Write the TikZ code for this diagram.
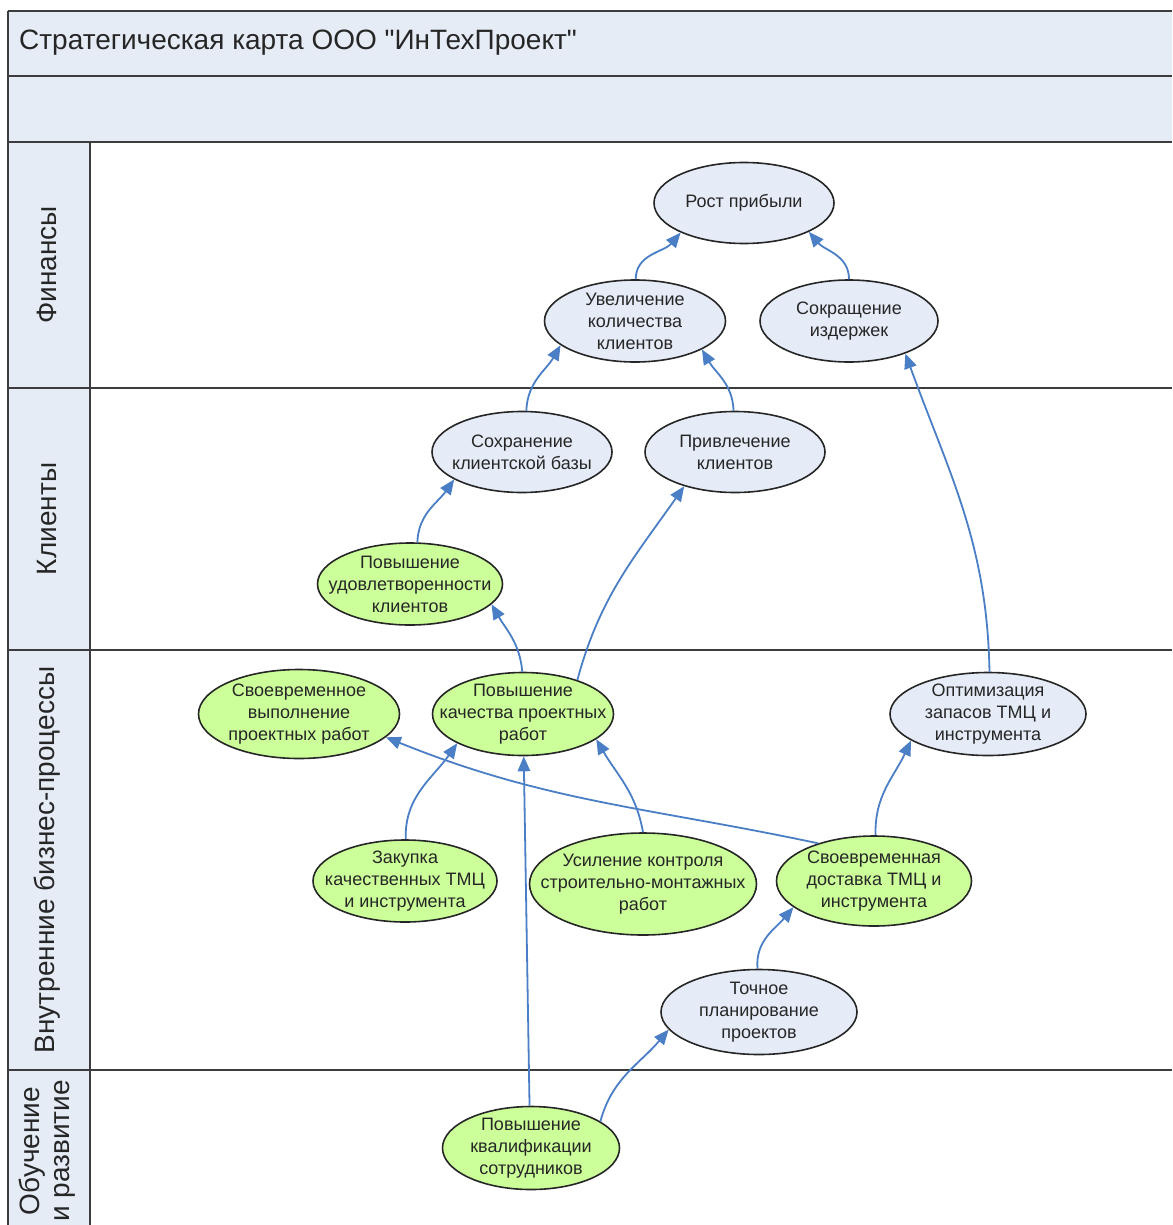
\documentclass[tikz,border=0pt]{standalone}
\usepackage{fontspec}
\setmainfont{Liberation Sans}
\newfontfamily\titlefont{Liberation Sans}
\usetikzlibrary{shapes.geometric,arrows.meta}
\definecolor{hdr}{HTML}{E6ECF6}
\definecolor{nblue}{HTML}{E6ECF7}
\definecolor{ngreen}{HTML}{CCFF99}
\definecolor{arr}{HTML}{4A7EC5}
\definecolor{frm}{HTML}{3C3C3C}
\begin{document}
\begin{tikzpicture}[x=1pt,y=-1pt,
  bub/.style={ellipse,draw=black!85,line width=1.6pt,inner sep=0pt},
  bb/.style={bub,fill=nblue},
  bg/.style={bub,fill=ngreen},
  txt/.style={align=center,font=\fontsize{18}{22}\selectfont,inner sep=0pt,text=black!85},
  lbl/.style={align=center,font=\fontsize{28}{30}\selectfont,inner sep=0pt,text=black!85,rotate=90},
  conn/.style={draw=arr,line width=1.8pt,-{Triangle[length=15pt,width=12.5pt]}},
  laneline/.style={draw=frm,line width=2.8pt},
  sideline/.style={draw=frm,line width=1.8pt}]
\useasboundingbox (0,0) rectangle (1172,1225);
% backgrounds
\fill[hdr] (8,11) rectangle (1172,142);
\fill[hdr] (8,142) rectangle (90,1225);
% lines
\draw[laneline] (8,11) -- (1172,11);
\draw[laneline] (8,76) -- (1172,76);
\draw[laneline] (8,142) -- (1172,142);
\draw[laneline] (8,388) -- (1172,388);
\draw[laneline] (8,650) -- (1172,650);
\draw[laneline] (8,1070) -- (1172,1070);
\draw[sideline] (8,11) -- (8,1225);
\draw[sideline] (90,142) -- (90,1225);
% title and lane labels
\node[anchor=west,font=\titlefont\fontsize{28}{30}\selectfont,inner sep=0pt,text=black!85] (title) at (19,43) {Стратегическая карта ООО "ИнТехПроект"};
\node[lbl] (lfin) at (47,265) {Финансы};
\node[lbl] (lcli) at (47,519) {Клиенты};
\node[lbl] (lbiz) at (47,860) {Внутренние бизнес-процессы};
\node[lbl] (ledu) at (47,1151) {Обучение\\и развитие};
% nodes
\node[bb,minimum width=180pt,minimum height=81pt] (rost) at (744,203) {};
\node[txt] (rost-t) at (rost) {Рост прибыли};
\node[bb,minimum width=181pt,minimum height=82pt] (uv) at (635,321) {};
\node[txt] (uv-t) at (uv) {Увеличение\\количества\\клиентов};
\node[bb,minimum width=178pt,minimum height=82pt] (sokr) at (849,321) {};
\node[txt] (sokr-t) at (sokr) {Сокращение\\издержек};
\node[bb,minimum width=180pt,minimum height=81pt] (sohr) at (522,452) {};
\node[txt] (sohr-t) at (sohr) {Сохранение\\клиентской базы};
\node[bb,minimum width=180pt,minimum height=81pt] (priv) at (735,452) {};
\node[txt] (priv-t) at (priv) {Привлечение\\клиентов};
\node[bg,minimum width=185pt,minimum height=82pt] (udov) at (410,584) {};
\node[txt] (udov-t) at (udov) {Повышение\\удовлетворенности\\клиентов};
\node[bg,minimum width=201pt,minimum height=89pt] (svoe) at (299,714) {};
\node[txt] (svoe-t) at (svoe) {Своевременное\\выполнение\\проектных работ};
\node[bg,minimum width=181pt,minimum height=83pt] (kach) at (523,714) {};
\node[txt] (kach-t) at (kach) {Повышение\\качества проектных\\работ};
\node[bb,minimum width=196pt,minimum height=83pt] (opt) at (988,714) {};
\node[txt] (opt-t) at (opt) {Оптимизация\\запасов ТМЦ и\\инструмента};
\node[bg,minimum width=184pt,minimum height=82pt] (zak) at (405,881) {};
\node[txt] (zak-t) at (zak) {Закупка\\качественных ТМЦ\\и инструмента};
\node[bg,minimum width=227pt,minimum height=102pt] (usil) at (643,884) {};
\node[txt] (usil-t) at (usil) {Усиление контроля\\строительно-монтажных\\работ};
\node[bg,minimum width=195pt,minimum height=90pt] (dost) at (874,881) {};
\node[txt] (dost-t) at (dost) {Своевременная\\доставка ТМЦ и\\инструмента};
\node[bb,minimum width=196pt,minimum height=85pt] (toch) at (759,1012) {};
\node[txt] (toch-t) at (toch) {Точное\\планирование\\проектов};
\node[bg,minimum width=177pt,minimum height=83pt] (kval) at (531,1148) {};
\node[txt] (kval-t) at (kval) {Повышение\\квалификации\\сотрудников};
% connectors
\draw[conn] (uv.89) to[out=90,in=230] (rost.205);
\draw[conn] (sokr.90) to[out=90,in=310] (rost.336);
\draw[conn] (sohr.84) to[out=88,in=240] (uv.198);
\draw[conn] (priv.92) to[out=92,in=300] (uv.337);
\draw[conn] (opt.88) to[out=91,in=290] (sokr.330);
\draw[conn] (udov.80) to[out=88,in=235] (sohr.202);
\draw[conn] (kach.91) to[out=95,in=300] (udov.346);
\draw[conn] (kach.32) to[out=75,in=235] (priv.214);
\draw[conn] (zak.89) to[out=92,in=235] (kach.204);
\draw[conn] (kval.92) -- (kach.271);
\draw[conn] (usil.90) to[out=100,in=300] (kach.341);
\draw[conn] (dost.146) to[out=168,in=338] (svoe.345);
\draw[conn] (dost.88) to[out=92,in=245] (opt.199);
\draw[conn] (toch.92) to[out=95,in=230] (dost.198);
\draw[conn] (kval.21) to[out=75,in=230] (toch.191);
\end{tikzpicture}
\end{document}
